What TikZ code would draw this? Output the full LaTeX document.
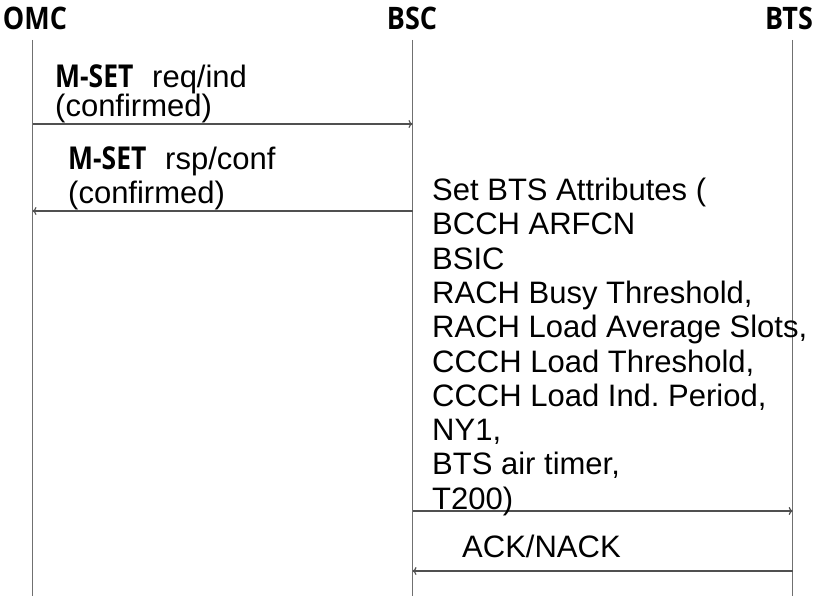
\documentclass[tikz,border=0pt]{standalone}
\usepackage{fontspec}
\setmainfont{Liberation Sans}
\newfontfamily\headfont[FakeStretch=0.87]{Open Sans}
\newfontfamily\msetfont[FakeStretch=0.84]{Open Sans}
\usetikzlibrary{arrows.meta}
\definecolor{lifegray}{HTML}{707070}
\definecolor{msggray}{HTML}{505050}
\frenchspacing
\tikzset{
  lifeline/.style={draw=lifegray, line width=1.2pt},
  msg/.style={draw=msggray, line width=1.2pt, -{To[length=4pt,width=8pt]}},
  hdr/.style={inner sep=0pt, anchor=base, font=\headfont\bfseries\fontsize{31}{34}\selectfont},
  lbl/.style={inner sep=0pt, anchor=base west, font=\fontsize{31}{34}\selectfont},
  mset/.style={inner sep=0pt, anchor=base west, font=\msetfont\bfseries\fontsize{31.5}{34}\selectfont},
}
\begin{document}
\begin{tikzpicture}[x=1pt,y=-1pt]
\useasboundingbox (0,0) rectangle (816,596);
% headers
\node[hdr] (omc) at (35,30) {OMC};
\node[hdr] (bsc) at (412,30) {BSC};
\node[hdr] (bts) at (789,30) {BTS};
% lifeline endpoints
\coordinate (omcT) at (32.5,40);
\coordinate (omcB) at (32.5,596);
\coordinate (bscT) at (412.5,40);
\coordinate (bscB) at (412.5,596);
\coordinate (btsT) at (792.7,40);
\coordinate (btsB) at (792.7,596);
\draw[lifeline] (omcT) -- (omcB);
\draw[lifeline] (bscT) -- (bscB);
\draw[lifeline] (btsT) -- (btsB);
% message points
\coordinate (m1a) at (32.5,124);
\coordinate (m1b) at (412.5,124);
\coordinate (m2a) at (412.5,211);
\coordinate (m2b) at (32.5,211);
\coordinate (m3a) at (412.5,511);
\coordinate (m3b) at (792.7,511);
\coordinate (m4a) at (792.7,571);
\coordinate (m4b) at (412.5,571);
\draw[msg] (m1a) -- (m1b);
\draw[msg] (m2a) -- (m2b);
\draw[msg] (m3a) -- (m3b);
\draw[msg] (m4a) -- (m4b);
% labels
\node[mset] (ms1) at (55,88) {M-SET};
\node[lbl] (req) at (152,88) {req/ind};
\node[lbl] (conf1) at (55,117) {(confirmed)};
\node[mset] (ms2) at (68,170) {M-SET};
\node[lbl] (rsp) at (165,170) {rsp/conf};
\node[lbl] (conf2) at (68,204) {(confirmed)};
\foreach \t [count=\i] in {Set BTS Attributes (,BCCH ARFCN,BSIC,{RACH Busy Threshold,},{RACH Load Average Slots,},{CCCH Load Threshold,},{CCCH Load Ind. Period,},{NY1,},{BTS air timer,},T200)}
  \node[lbl] (attr\i) at (432,{200.5+34.3*(\i-1)}) {\t};
\node[lbl] (ack) at (462,557) {ACK/NACK};
\end{tikzpicture}
\end{document}
